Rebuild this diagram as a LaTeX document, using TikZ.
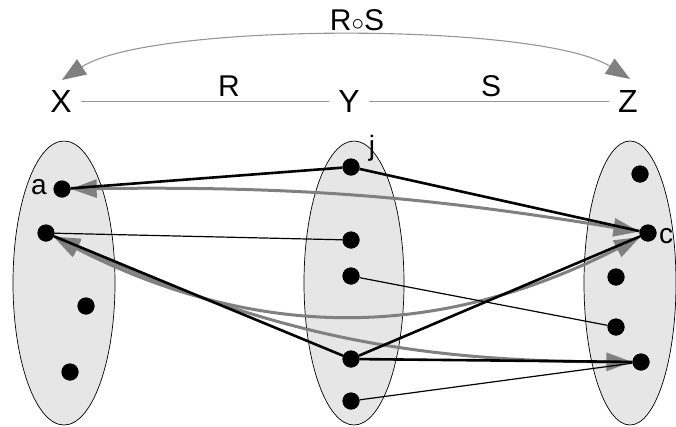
\documentclass[tikz,border=0pt]{standalone}
\usepackage{fontspec}
\setmainfont{Liberation Sans}
\usetikzlibrary{arrows.meta,shapes.geometric}
\definecolor{setfill}{RGB}{230,230,230}
\definecolor{arrgray}{RGB}{128,128,128}
\definecolor{linegray}{RGB}{150,150,150}
\tikzset{
  setshape/.style={ellipse, draw=black, line width=0.7pt, fill=setfill, inner sep=0pt},
  dot/.style={circle, fill=black, inner sep=0pt, minimum size=17pt},
  biglabel/.style={font=\fontsize{32}{36}\selectfont, fill=white, inner xsep=9pt, inner ysep=4pt},
  rellabel/.style={font=\fontsize{30}{34}\selectfont},
  ptlabel/.style={font=\fontsize{28}{32}\selectfont},
  thick line/.style={draw=black, line width=2.6pt},
  thin line/.style={draw=black, line width=1.2pt},
  comp/.style={draw=arrgray, line width=3pt, {Triangle[length=26pt,width=18pt,fill=arrgray]}-{Triangle[length=26pt,width=18pt,fill=arrgray]}},
  toparc/.style={draw=linegray, line width=1.1pt, {Triangle[length=24pt,width=18pt,fill=arrgray,color=arrgray]}-{Triangle[length=24pt,width=18pt,fill=arrgray,color=arrgray]}},
  axis/.style={draw=linegray, line width=0.8pt}
}
\begin{document}
\begin{tikzpicture}[x=1pt,y=-1pt]
\useasboundingbox (0,0) rectangle (676,426);
% sets
\node[setshape, minimum width=102pt, minimum height=284pt] (SX) at (64,283) {};
\node[setshape, minimum width=100pt, minimum height=284pt] (SY) at (354,283) {};
\node[setshape, minimum width=92pt, minimum height=284pt] (SZ) at (630,283) {};
% header labels
\node[biglabel] (X) at (61,101) {X};
\node[biglabel] (Y) at (349,101) {Y};
\node[biglabel] (Z) at (628,101) {Z};
\draw[axis] (X) -- (Y);
\draw[axis] (Y) -- (Z);
\node[rellabel] (R) at (229,86) {R};
\node[rellabel] (S) at (491,86) {S};
\node[rellabel] (RS) at (357,20) {R$\circ$S};
\coordinate (tx) at (62,80);
\coordinate (tz) at (630,79);
\draw[toparc] (tx) .. controls (150,22) and (540,22) .. (tz);
% dots
\node[dot] (L1) at (62,189) {};
\node[dot] (L2) at (46,233) {};
\node[dot] (L3) at (86,306) {};
\node[dot] (L4) at (70,372) {};
\node[dot] (M1) at (351,167) {};
\node[dot] (M2) at (351,240) {};
\node[dot] (M3) at (351,276) {};
\node[dot] (M4) at (351,359) {};
\node[dot] (M5) at (351,401) {};
\node[dot] (R1) at (640,174) {};
\node[dot] (R2) at (648,233) {};
\node[dot] (R3) at (616,277) {};
\node[dot] (R4) at (616,327) {};
\node[dot] (R5) at (641,362) {};
% point labels
\node[ptlabel] (la) at (39,187) {a};
\node[ptlabel] (lj) at (372,148) {j};
\node[ptlabel] (lc) at (666,236) {c};
% composition arrows
\draw[comp] (L1) to[bend left=5] (R2);
\draw[comp] (L2) to[bend right=27] (R2);
\draw[comp] (L2) to[bend right=12] (R5);
% relation R and S
\draw[thick line] (L1) -- (M1);
\draw[thick line] (M1) -- (R2);
\draw[thick line] (L2) -- (M4);
\draw[thick line] (M4) -- (R2);
\draw[thick line] (M4) -- (R5);
\draw[thin line] (L2) -- (M2);
\draw[thin line] (M3) -- (R4);
\draw[thin line] (M5) -- (R5);
% redraw dots on top
\foreach \n in {L1,L2,L3,L4,M1,M2,M3,M4,M5,R1,R2,R3,R4,R5}
  \fill (\n) circle (8.5pt);
\end{tikzpicture}
\end{document}
